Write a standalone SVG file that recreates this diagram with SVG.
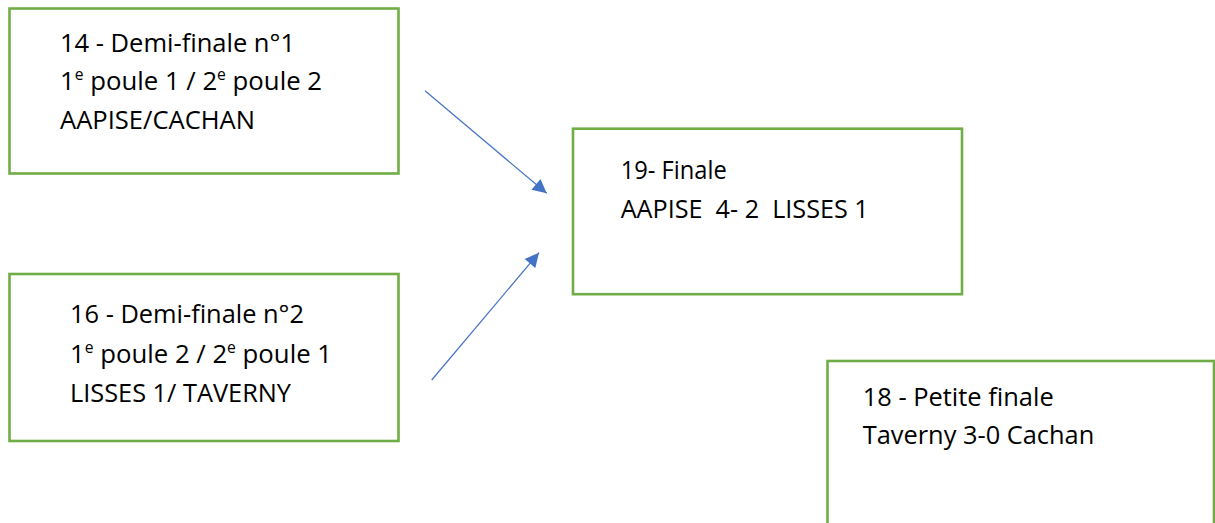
<svg xmlns="http://www.w3.org/2000/svg" width="1215" height="523" viewBox="0 0 1215 523">
<style>
.box{fill:#ffffff;stroke:#70AD47;stroke-width:2.6}
.t{font-family:"Open Sans","Noto Sans","Liberation Sans",sans-serif;font-size:25.5px;fill:#000000}
.sup{font-size:15.5px}
.conn{stroke:#4472C4;stroke-width:1.2;fill:none;marker-end:url(#arr)}
</style>
<defs>
<marker id="arr" viewBox="0 0 10 10" refX="10" refY="5" markerWidth="18" markerHeight="14" markerUnits="userSpaceOnUse" orient="auto">
<path d="M0,0 L10,5 L0,10 z" fill="#4472C4"/>
</marker>
</defs>
<rect width="1215" height="523" fill="#ffffff"/>
<g id="node-14">
<rect class="box" x="9.5" y="8.5" width="389" height="165"/>
<text class="t" x="60" y="51.7" textLength="235" lengthAdjust="spacingAndGlyphs">14 - Demi-finale n°1</text>
<text class="t" x="60" y="90" textLength="262" lengthAdjust="spacingAndGlyphs">1<tspan class="sup" dy="-10">e</tspan><tspan dy="10"> poule 1 / 2</tspan><tspan class="sup" dy="-10">e</tspan><tspan dy="10"> poule 2</tspan></text>
<text class="t" x="60" y="129" textLength="195" lengthAdjust="spacingAndGlyphs">AAPISE/CACHAN</text>
</g>
<g id="node-16">
<rect class="box" x="9.5" y="274" width="389" height="167"/>
<text class="t" x="70" y="323.3" textLength="234" lengthAdjust="spacingAndGlyphs">16 - Demi-finale n°2</text>
<text class="t" x="70" y="362.7" textLength="262" lengthAdjust="spacingAndGlyphs">1<tspan class="sup" dy="-10">e</tspan><tspan dy="10"> poule 2 / 2</tspan><tspan class="sup" dy="-10">e</tspan><tspan dy="10"> poule 1</tspan></text>
<text class="t" x="70" y="401.7" textLength="221" lengthAdjust="spacingAndGlyphs">LISSES 1/ TAVERNY</text>
</g>
<g id="node-19">
<rect class="box" x="573" y="128.7" width="389" height="165.5"/>
<text class="t" x="620.7" y="179.3" textLength="106" lengthAdjust="spacingAndGlyphs">19- Finale</text>
<text class="t" x="620.7" y="218" textLength="248" lengthAdjust="spacingAndGlyphs" xml:space="preserve">AAPISE  4- 2  LISSES 1</text>
</g>
<g id="node-18">
<rect class="box" x="827.5" y="361" width="386.5" height="180"/>
<text class="t" x="862.7" y="406" textLength="191" lengthAdjust="spacingAndGlyphs">18 - Petite finale</text>
<text class="t" x="862.7" y="444" textLength="231.6" lengthAdjust="spacingAndGlyphs">Taverny 3-0 Cachan</text>
</g>
<g id="connectors">
<line class="conn" x1="425" y1="90.7" x2="546.7" y2="193.3"/>
<line class="conn" x1="431.7" y1="380" x2="539" y2="252.7"/>
</g>
</svg>
